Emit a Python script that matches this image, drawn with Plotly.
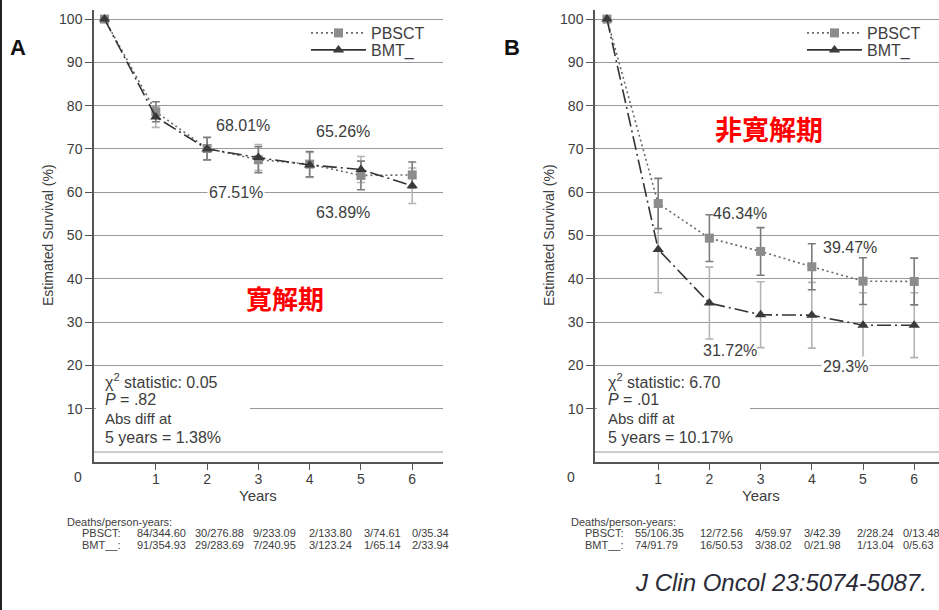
import plotly.graph_objects as go

W, H = 939, 610

# ---------------- data ----------------
years = [0, 1, 2, 3, 4, 5, 6]

a_pbsct = [100, 78.6, 70.1, 67.51, 66.5, 63.89, 64.0]
a_pbsct_err = [0, 2.3, 2.6, 3.0, 2.9, 3.3, 3.0]
a_bmt = [100, 77.4, 70.0, 68.01, 66.3, 65.26, 61.5]
a_bmt_err = [0, 2.4, 2.6, 3.0, 2.9, 3.0, 4.1]

b_pbsct = [100, 57.4, 49.4, 46.34, 42.8, 39.47, 39.4]
b_pbsct_err = [0, 5.8, 5.4, 5.5, 5.3, 5.4, 5.4]
b_bmt = [100, 46.8, 34.4, 31.72, 31.6, 29.3, 29.3]
b_bmt_err = [0, 10.0, 8.3, 7.6, 7.6, 7.5, 7.5]

x_ticks = [1, 2, 3, 4, 5, 6]
y_ticks = [10, 20, 30, 40, 50, 60, 70, 80, 90, 100]

a_pbsct_deaths = ["84/344.60", "30/276.88", "9/233.09", "2/133.80", "3/74.61", "0/35.34"]
a_bmt_deaths = ["91/354.93", "29/283.69", "7/240.95", "3/123.24", "1/65.14", "2/33.94"]
b_pbsct_deaths = ["55/106.35", "12/72.56", "4/59.97", "3/42.39", "2/28.24", "0/13.48"]
b_bmt_deaths = ["74/91.79", "16/50.53", "3/38.02", "0/21.98", "1/13.04", "0/5.63"]

a_stats = ["χ<sup>2</sup> statistic: 0.05", "<i>P</i> = .82", "Abs diff at", "5 years = 1.38%"]
b_stats = ["χ<sup>2</sup> statistic: 6.70", "<i>P</i> = .01", "Abs diff at", "5 years = 10.17%"]

# ---------------- styling ----------------
FONT = "Liberation Sans, Arial, sans-serif"
TXT = "#3d3d3d"
GRID = "#9a9a9a"
AXIS = "#555555"

def px(x):
    return x / W

def py(y):
    return 1 - y / H

fig = go.Figure()

def add_panel(xa, ya, pb, pb_err, bm, bm_err, leg_pb, leg_bm):
    # error bars (BMT light, PBSCT dark)
    fig.add_trace(go.Scatter(x=years, y=bm, mode="markers", xaxis=xa, yaxis=ya,
                             marker=dict(size=1, color="rgba(0,0,0,0)"),
                             error_y=dict(type="data", array=bm_err, color="#b4b4b4", thickness=1.6, width=4),
                             showlegend=False, hoverinfo="skip"))
    fig.add_trace(go.Scatter(x=years, y=pb, mode="markers", xaxis=xa, yaxis=ya,
                             marker=dict(size=1, color="rgba(0,0,0,0)"),
                             error_y=dict(type="data", array=pb_err, color="#7c7c7c", thickness=1.6, width=4),
                             showlegend=False, hoverinfo="skip"))
    fig.add_trace(go.Scatter(x=years, y=pb, mode="lines+markers", xaxis=xa, yaxis=ya,
                             line=dict(color="#6a6a6a", width=1.6, dash="2px,3px"),
                             marker=dict(symbol="square", size=9, color="#8c8c8c"),
                             showlegend=False, hoverinfo="skip"))
    fig.add_trace(go.Scatter(x=years, y=bm, mode="lines+markers", xaxis=xa, yaxis=ya,
                             line=dict(color="#333333", width=1.6, dash="14px,4px,2px,4px"),
                             marker=dict(symbol="triangle-up", size=10, color="#3a3a3a"),
                             showlegend=False, hoverinfo="skip"))
    # legend entries
    fig.add_trace(go.Scatter(x=[None], y=[None], mode="lines+markers", xaxis=xa, yaxis=ya,
                             name="PBSCT", legend=leg_pb,
                             line=dict(color="#6a6a6a", width=1.6, dash="2px,3px"),
                             marker=dict(symbol="square", size=9, color="#8c8c8c")))
    fig.add_trace(go.Scatter(x=[None], y=[None], mode="lines+markers", xaxis=xa, yaxis=ya,
                             name="BMT_", legend=leg_bm,
                             line=dict(color="#333333", width=1.6),
                             marker=dict(symbol="triangle-up", size=10, color="#3a3a3a")))

add_panel("x", "y", a_pbsct, a_pbsct_err, a_bmt, a_bmt_err, "legend", "legend2")
add_panel("x2", "y2", b_pbsct, b_pbsct_err, b_bmt, b_bmt_err, "legend3", "legend4")

xcommon = dict(tickvals=x_ticks, ticks="outside", ticklen=6, tickcolor=AXIS, tickwidth=1,
               showgrid=False, zeroline=False, showline=True, linecolor=AXIS, linewidth=1.5,
               ticklabelstandoff=-3,
               tickfont=dict(family=FONT, size=14, color=TXT))
ycommon = dict(tickvals=y_ticks, range=[-2.3, 102.1],
               ticks="outside", ticklen=7, tickcolor=AXIS, tickwidth=1,
               showgrid=True, gridcolor=GRID, gridwidth=1, zeroline=False,
               showline=True, linecolor=AXIS, linewidth=1.5,
               tickfont=dict(family=FONT, size=14, color=TXT))

def leg(x, y):
    return dict(x=px(x), y=py(y), xanchor="left", yanchor="middle", bgcolor="rgba(0,0,0,0)",
                font=dict(family=FONT, size=16, color=TXT), itemwidth=55, tracegroupgap=0)

fig.update_layout(
    width=W, height=H, margin=dict(l=0, r=0, t=0, b=0),
    paper_bgcolor="white", plot_bgcolor="white",
    font=dict(family=FONT, color=TXT),
    xaxis=dict(domain=[px(94), px(443)], range=[-0.205, 6.60], anchor="y", **xcommon),
    yaxis=dict(domain=[py(462), py(10)], anchor="x", **ycommon),
    xaxis2=dict(domain=[px(595), 1.0], range=[-0.234, 6.484], anchor="y2", **xcommon),
    yaxis2=dict(domain=[py(462), py(10)], anchor="x2", **ycommon),
    legend=leg(306, 33), legend2=leg(306, 50),
    legend3=leg(802, 33), legend4=leg(802, 50),
)

shapes = []
# zero reference lines
for xr, yr in [("x", "y"), ("x2", "y2")]:
    shapes.append(dict(type="line", xref=xr + " domain", yref=yr, x0=0, x1=1, y0=0, y1=0,
                       line=dict(color=GRID, width=1), layer="below"))
# white boxes behind the statistics text
shapes.append(dict(type="rect", xref="paper", yref="paper", x0=px(96), x1=px(250), y0=py(446), y1=py(370),
                   fillcolor="white", line=dict(width=0), layer="above"))
shapes.append(dict(type="rect", xref="paper", yref="paper", x0=px(597), x1=px(750), y0=py(446), y1=py(370),
                   fillcolor="white", line=dict(width=0), layer="above"))
# left border of the image
shapes.append(dict(type="line", xref="paper", yref="paper", x0=px(1), x1=px(1), y0=0, y1=1,
                   line=dict(color="#222222", width=2)))
fig.update_layout(shapes=shapes)

ann = []

def text(x, y, s, size=14, color=TXT, xanchor="center", bold=False, italic=False, family=FONT,
         bg=None, angle=0):
    if bold:
        s = "<b>" + s + "</b>"
    if italic:
        s = "<i>" + s + "</i>"
    d = dict(x=px(x), y=py(y), xref="paper", yref="paper", text=s, showarrow=False,
             xanchor=xanchor, yanchor="middle", font=dict(family=family, size=size, color=color),
             textangle=angle)
    if bg:
        d["bgcolor"] = bg
    ann.append(d)

# panel letters
text(18, 47, "A", size=22, color="#111", bold=True)
text(512, 47, "B", size=22, color="#111", bold=True)

# axis titles and origin labels
for cx, ycx, zx in [(258, 48, 78), (761, 549, 571)]:
    text(cx, 495, "Years", size=15)
    text(ycx, 235, "Estimated Survival (%)", size=14, angle=-90)
    text(zx, 477, "0", size=14)

# percentage labels A
text(243, 125, "68.01%", size=16)
text(343, 131, "65.26%", size=16)
text(236, 192, "67.51%", size=16, bg="white")
text(343, 212, "63.89%", size=16)
# percentage labels B
text(740, 213, "46.34%", size=16)
text(850, 247, "39.47%", size=16)
text(730, 351, "31.72%", size=16)
text(845, 366, "29.3%", size=16, bg="white")

# red period labels
text(285, 298, "寛解期", size=26, color="#ff0000", bold=True, family="Noto Sans CJK JP")
text(769, 128, "非寛解期", size=27, color="#ff0000", bold=True, family="Noto Sans CJK JP")

# statistics
stat_y = [381, 399, 418, 437]
stat_sz = [16, 16, 15, 16]
for lines, x0 in [(a_stats, 103), (b_stats, 606)]:
    for s, yy, sz in zip(lines, stat_y, stat_sz):
        text(x0, yy, s, size=sz, xanchor="left")

# deaths / person-years tables
a_cols = [135, 193, 251, 307, 362, 410]
b_cols = [633, 698, 753, 802, 855, 901]
for x_head, x_lab, cols, rows in [(65, 80, a_cols, (a_pbsct_deaths, a_bmt_deaths)),
                                  (569, 583, b_cols, (b_pbsct_deaths, b_bmt_deaths))]:
    text(x_head, 522, "Deaths/person-years:", size=11, xanchor="left")
    for lab, vals, yy in [("PBSCT:", rows[0], 533), ("BMT__:", rows[1], 545)]:
        text(x_lab, yy, lab, size=11, xanchor="left")
        for cx, v in zip(cols, vals):
            text(cx, yy, v, size=11, xanchor="left")

# citation
text(781, 582, "J Clin Oncol 23:5074-5087.", size=24, color="#2a2a38", italic=True)

fig.update_layout(annotations=ann)

fig.write_html("out.html", config={"displayModeBar": False},
               post_script="document.body.style.margin='0';")
